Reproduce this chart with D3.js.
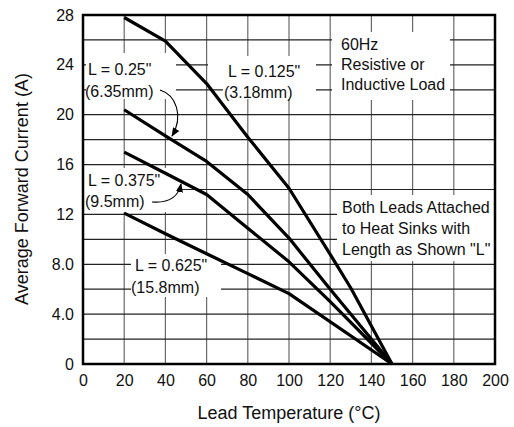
<!DOCTYPE html>
<html>
<head>
<meta charset="utf-8">
<script src="https://cdn.jsdelivr.net/npm/d3@7"></script>
<style>
  html, body { margin: 0; padding: 0; background: #fff; }
  svg text { font-family: Arial, "Liberation Sans", Helvetica, sans-serif; fill: #111; }
</style>
</head>
<body>
<svg id="chart" width="514" height="427"></svg>
<script>
// ---- data ----
const xTicks = [0, 20, 40, 60, 80, 100, 120, 140, 160, 180, 200];
const yTicks = [0, 4, 8, 12, 16, 20, 24, 28];
const yTickLabels = ["0", "4.0", "8.0", "12", "16", "20", "24", "28"];
const xGrid = [20, 40, 60, 80, 100, 120, 140, 160, 180];
const yGrid = [2, 4, 6, 8, 10, 12, 14, 16, 18, 20, 22, 24, 26];

const tempL0125 = [20, 40, 60, 80, 100, 120, 130, 150];
const currL0125 = [27.8, 25.9, 22.5, 18.2, 14.1, 8.8, 6.1, 0];
const tempL025 = [20, 40, 60, 80, 100, 120, 150];
const currL025 = [20.4, 18.3, 16.25, 13.6, 10.1, 6.0, 0];
const tempL0375 = [20, 40, 60, 80, 100, 120, 150];
const currL0375 = [17.0, 15.3, 13.6, 10.9, 8.2, 5.0, 0];
const tempL0625 = [20, 40, 60, 80, 100, 150];
const currL0625 = [12.1, 10.45, 8.85, 7.25, 5.65, 0];

const xTitle = "Lead Temperature (°C)";
const yTitle = "Average Forward Current (A)";

// ---- layout ----
const svg = d3.select("#chart");
const L = 83, R = 495, T = 15, B = 364;
const x = d3.scaleLinear().domain([0, 200]).range([L, R]);
const y = d3.scaleLinear().domain([0, 28]).range([B, T]);

// grid
const grid = svg.append("g");
grid.selectAll("line.v").data(xGrid).join("line")
  .attr("x1", d => x(d)).attr("x2", d => x(d))
  .attr("y1", T).attr("y2", B)
  .attr("stroke", "#6a6a6a").attr("stroke-width", 1.2);
grid.selectAll("line.h").data(yGrid).join("line")
  .attr("x1", L).attr("x2", R)
  .attr("y1", d => y(d)).attr("y2", d => y(d))
  .attr("stroke", "#222").attr("stroke-width", 1.2);

// white label backgrounds (hide grid behind annotation text)
const boxes = [
  [86, 53, 176, 99],
  [208, 56, 316, 77],
  [223, 77, 316, 99],
  [332, 32, 450, 100],
  [84, 168, 181, 212],
  [131, 254, 221, 297],
  [337, 195, 494, 261]
];
svg.append("g").selectAll("rect").data(boxes).join("rect")
  .attr("x", d => d[0]).attr("y", d => d[1])
  .attr("width", d => d[2] - d[0]).attr("height", d => d[3] - d[1])
  .attr("fill", "#fff");

// axes (labels only)
const yAxis = d3.axisLeft(y).tickValues(yTicks)
  .tickFormat((d, i) => yTickLabels[i]).tickSize(0).tickPadding(9);
const gy = svg.append("g").attr("transform", `translate(${L},0)`).call(yAxis);
gy.select(".domain").remove();
gy.selectAll("text").attr("font-size", 16).style("font-family", 'Arial, "Liberation Sans", sans-serif').attr("fill", "#111");

const xAxis = d3.axisBottom(x).tickValues(xTicks).tickFormat(d3.format("d")).tickSize(0).tickPadding(11);
const gx = svg.append("g").attr("transform", `translate(0,${B})`).call(xAxis);
gx.select(".domain").remove();
gx.selectAll("text").attr("font-size", 16).style("font-family", 'Arial, "Liberation Sans", sans-serif').attr("fill", "#111");

// frame
svg.append("rect").attr("x", L).attr("y", T).attr("width", R - L).attr("height", B - T)
  .attr("fill", "none").attr("stroke", "#000").attr("stroke-width", 2.5);

// curves
const series = [
  [tempL0125, currL0125],
  [tempL025, currL025],
  [tempL0375, currL0375],
  [tempL0625, currL0625]
];
const line = d3.line().x(d => x(d[0])).y(d => y(d[1]));
svg.append("g").selectAll("path").data(series).join("path")
  .attr("d", s => line(s[0].map((t, i) => [t, s[1][i]])))
  .attr("fill", "none").attr("stroke", "#000").attr("stroke-width", 3.2)
  .attr("stroke-linejoin", "round").attr("stroke-linecap", "butt");

// annotation text
const labels = [
  ["L = 0.25\"", 88, 75], ["(6.35mm)", 85, 97],
  ["L = 0.125\"", 228, 77], ["(3.18mm)", 224, 98],
  ["60Hz", 341, 50], ["Resistive or", 341, 70], ["Inductive Load", 341, 90],
  ["L = 0.375\"", 88, 186], ["(9.5mm)", 85, 207],
  ["L = 0.625\"", 135, 271], ["(15.8mm)", 131, 293],
  ["Both Leads Attached", 342, 213], ["to Heat Sinks with", 342, 234], ["Length as Shown \"L\"", 342, 255]
];
svg.append("g").selectAll("text").data(labels).join("text")
  .attr("x", d => d[1]).attr("y", d => d[2]).attr("font-size", 16)
  .text(d => d[0]);

// arrows
const defs = svg.append("defs");
defs.append("marker").attr("id", "ah").attr("viewBox", "0 0 10 10")
  .attr("refX", 9).attr("refY", 5).attr("markerWidth", 9).attr("markerHeight", 9)
  .attr("markerUnits", "userSpaceOnUse").attr("orient", "auto")
  .append("path").attr("d", "M0,1 L10,5 L0,9 Z").attr("fill", "#000");
svg.append("path").attr("d", "M160,90 C176,95 184,116 172,136")
  .attr("fill", "none").attr("stroke", "#000").attr("stroke-width", 1.1).attr("marker-end", "url(#ah)");
svg.append("path").attr("d", "M152,202 C166,203 178,199 181,184")
  .attr("fill", "none").attr("stroke", "#000").attr("stroke-width", 1.1).attr("marker-end", "url(#ah)");

// titles
svg.append("text").attr("x", 289).attr("y", 419).attr("text-anchor", "middle")
  .attr("font-size", 18).text(xTitle);
svg.append("text").attr("transform", "translate(28,189) rotate(-90)").attr("text-anchor", "middle")
  .attr("font-size", 18).text(yTitle);
</script>
</body>
</html>
